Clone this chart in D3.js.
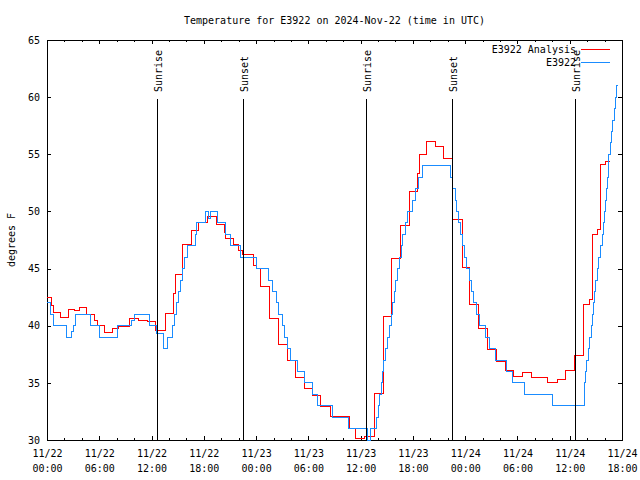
<!DOCTYPE html>
<html><head><meta charset="utf-8">
<script src="https://cdn.jsdelivr.net/npm/d3@7"></script>
<style>
body{margin:0;background:#fff}
svg{display:block}
</style>
</head><body>
<svg id="chart" width="640" height="480"></svg>
<script>
// ---------------- data ----------------
const titleText = "Temperature for E3922 on 2024-Nov-22 (time in UTC)";
const yLabel = "degrees F";
const startUTC = Date.UTC(2024, 10, 22, 0, 0);
const domainHours = [0, 66];
const yDomain = [30, 65];
const yTicks = [30, 35, 40, 45, 50, 55, 60, 65];
const seriesNames = ["E3922 Analysis", "E3922"];
const seriesColors = ["#ff0000", "#1a8cff"];

// Analysis (red): hours since start, temperature
const anaHours = [0,0.5,0.75,1.6,2.5,3.2,3.7,4.5,5.5,5.75,6.6,7.5,8.2,9.5,10.5,11.5,12.5,13.6,14.5,14.7,15.6,16.6,17.4,18.4,19.5,20.4,20.5,21.4,22.0,22.4,23.7,24.1,24.55,25.5,26.55,27.6,28.55,29.55,30.45,31.4,32.55,34.7,35.45,36.5,37.55,38.6,39.55,40.6,41.6,42.5,42.8,43.6,44.55,45.5,46.55,47.7,48.55,49.55,50.55,51.6,52.6,53.5,54.6,55.6,57.5,58.55,59.55,60.6,61.55,62.25,62.6,63.15,63.55,64.1,64.6];
const anaTemps = [42.5,41.8,41.2,40.7,41.4,41.3,41.6,41.0,40.5,40.0,39.4,39.8,39.9,40.6,40.5,40.4,39.6,41.1,42.8,44.5,47.1,48.3,49.0,49.6,48.9,48.2,47.6,47.1,46.6,46.2,45.3,45.0,43.4,40.6,38.4,37.0,35.5,34.5,33.9,32.9,32.1,31.0,30.15,30.35,34.1,40.85,45.9,48.8,51.75,53.3,55.0,56.1,55.7,54.65,49.3,45.1,41.9,39.8,37.9,36.85,36.1,35.6,35.9,35.5,35.05,35.3,36.1,37.4,41.9,42.3,48.0,48.4,54.15,54.4,54.4];

// Observations (blue)
const obsHours = [0,0.4,0.75,2.2,2.8,3.0,3.3,5.0,6.0,8.1,9.75,10.0,11.8,12.6,13.35,13.8,14.4,14.65,14.9,15.05,15.3,15.55,15.8,16.1,17.05,17.15,18.15,18.55,18.75,19.55,20.45,21.1,22.2,24.05,25.4,25.9,26.3,26.55,27.0,27.3,27.6,28.0,28.8,29.5,30.5,31.05,32.8,34.65,36.8,37.1,37.85,38.05,38.2,38.35,38.5,38.65,38.85,39.05,39.3,39.5,39.65,39.85,40.05,40.25,40.45,40.65,40.85,41.1,41.4,41.9,42.35,42.6,43.1,46.3,46.6,46.85,47.05,47.25,47.45,47.65,47.9,48.2,48.45,48.7,48.9,49.3,49.7,50.3,50.8,51.5,52.7,53.4,54.85,58.0,61.65,61.75,61.85,61.95,62.1,62.3,62.5,62.6,62.75,62.9,63.0,63.15,63.35,63.55,63.75,63.9,64.0,64.1,64.2,64.3,64.4,64.5,64.65,64.8,64.95,65.1,65.25,65.4,65.5];
const obsTemps = [42,41,40,39,39.5,40,41,40,39,40,40.5,41,40,39.3,38,39,40,41,42,43,44,45,46,47,48,49,50,49.4,50,49,48,47,46,45,44,43,42,41,40,39,38,37,36,35,34,33,32,31,30,31,32,33,34,35,36,37,38,39,40,41,42,43,44,45,46,47,48,49,50,51,52,53,54,53,52,51,50,49,48,47,46,45,44,43,42,41,40,39,38,37,36,35,34,33,34,35,36,37,38,39,40,41,42,43,44,45,46,47,48,49,50,51,52,53,54,55,56,57,58,59,60,61,61];

const sunHours = [12.65, 22.53, 36.62, 46.49, 60.64];
const sunLabels = ["Sunrise", "Sunset", "Sunrise", "Sunset", "Sunrise"];

// ---------------- chart ----------------
const FONT = "'DejaVu Sans Mono', 'Liberation Mono', monospace";
const svg = d3.select("#chart");
const M = {left: 47, right: 622, top: 40, bottom: 440};
const toDate = h => new Date(startUTC + h * 3600e3);

const x = d3.scaleUtc().domain(domainHours.map(toDate)).range([M.left, M.right]);
const y = d3.scaleLinear().domain(yDomain).range([M.bottom, M.top]);

const majorTicks = d3.utcHour.every(6).range(toDate(domainHours[0]), toDate(domainHours[1] + 0.01));
const minorTicks = d3.utcHour.every(2).range(toDate(domainHours[0]), toDate(domainHours[1] + 0.01))
  .filter(d => d.getUTCHours() % 6 !== 0);

function styleAxis(g) {
  g.select(".domain").remove();
  g.selectAll("line").attr("stroke", "#000").attr("shape-rendering", "crispEdges");
  g.attr("font-family", FONT).attr("font-size", 10);
  g.selectAll("text").attr("fill", "#000");
}

// minor x ticks (bottom & top)
svg.append("g").attr("transform", `translate(0,${M.bottom})`)
  .call(d3.axisBottom(x).tickValues(minorTicks).tickSize(-2).tickFormat("")).call(styleAxis);
svg.append("g").attr("transform", `translate(0,${M.top})`)
  .call(d3.axisTop(x).tickValues(minorTicks).tickSize(-2).tickFormat("")).call(styleAxis);
// major x ticks
svg.append("g").attr("transform", `translate(0,${M.top})`)
  .call(d3.axisTop(x).tickValues(majorTicks).tickSize(-4).tickFormat("")).call(styleAxis);
const xAxis = svg.append("g").attr("transform", `translate(0,${M.bottom})`)
  .call(d3.axisBottom(x).tickValues(majorTicks).tickSize(-4).tickPadding(10)
    .tickFormat(d3.utcFormat("%m/%d"))).call(styleAxis);
xAxis.selectAll(".tick text").each(function(d) {
  d3.select(this).append("tspan").attr("x", 0).attr("dy", 15).text(d3.utcFormat("%H:%M")(d));
});

// y axes
svg.append("g").attr("transform", `translate(${M.left},0)`)
  .call(d3.axisLeft(y).tickValues(yTicks).tickSize(-4).tickPadding(7)).call(styleAxis);
svg.append("g").attr("transform", `translate(${M.right},0)`)
  .call(d3.axisRight(y).tickValues(yTicks).tickSize(-4).tickFormat("")).call(styleAxis);

// frame
svg.append("rect").attr("x", M.left + 0.5).attr("y", M.top + 0.5)
  .attr("width", M.right - M.left).attr("height", M.bottom - M.top)
  .attr("fill", "none").attr("stroke", "#000").attr("shape-rendering", "crispEdges");

// series
const line = d3.line().curve(d3.curveStepAfter).x(d => x(toDate(d[0]))).y(d => y(d[1]));
const series = [d3.zip(anaHours, anaTemps), d3.zip(obsHours, obsTemps)];
series.forEach((s, i) => {
  svg.append("path").datum(s).attr("d", line).attr("fill", "none")
    .attr("stroke", seriesColors[i]).attr("stroke-width", 1)
    .attr("shape-rendering", "crispEdges");
});

// sun lines
const sun = svg.append("g");
sunHours.forEach((h, i) => {
  const sx = Math.round(x(toDate(h))) + 0.5;
  sun.append("line").attr("x1", sx).attr("x2", sx).attr("y1", 99).attr("y2", M.bottom)
    .attr("stroke", "#000").attr("shape-rendering", "crispEdges");
  sun.append("text").attr("transform", `translate(${sx + 4.5},92) rotate(-90)`)
    .attr("font-family", FONT).attr("font-size", 10).attr("text-anchor", "start")
    .text(sunLabels[i]);
});

// title
svg.append("text").attr("x", (M.left + M.right) / 2).attr("y", 24)
  .attr("text-anchor", "middle").attr("font-family", FONT).attr("font-size", 10)
  .text(titleText);

// y label
svg.append("text").attr("transform", `translate(15,240) rotate(-90)`)
  .attr("text-anchor", "middle").attr("font-family", FONT).attr("font-size", 10)
  .text(yLabel);

// legend
seriesNames.forEach((n, i) => {
  const ly = 49.5 + i * 13;
  svg.append("text").attr("x", 576).attr("y", ly + 3.5).attr("text-anchor", "end")
    .attr("font-family", FONT).attr("font-size", 10).text(n);
  svg.append("line").attr("x1", 581).attr("x2", 610).attr("y1", ly).attr("y2", ly)
    .attr("stroke", seriesColors[i]).attr("stroke-width", 1).attr("shape-rendering", "crispEdges");
});
</script>
</body></html>
